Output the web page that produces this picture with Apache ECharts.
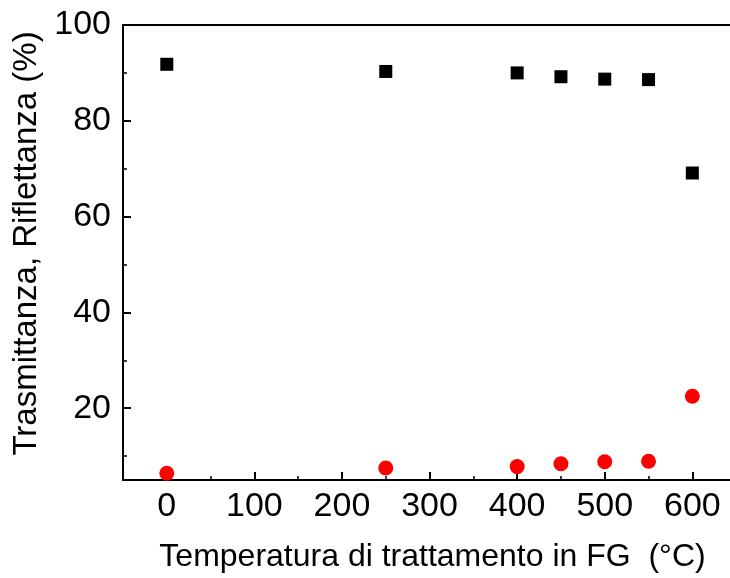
<!DOCTYPE html>
<html>
<head>
<meta charset="utf-8">
<script src="https://cdn.jsdelivr.net/npm/echarts@6/dist/echarts.min.js"></script>
<style>
html,body{margin:0;padding:0;background:#fff;}
#chart{width:730px;height:578px;}
</style>
</head>
<body>
<div id="chart"></div>
<script>
const temperatures = [0, 250, 400, 450, 500, 550, 600];
const transmittance = [91.8, 90.3, 90.0, 89.2, 88.7, 88.6, 69.1];
const reflectance = [6.4, 7.5, 7.8, 8.4, 8.8, 8.9, 22.5];
const xMajorTicks = [0, 100, 200, 300, 400, 500, 600];
const xMinorTicks = [50, 150, 250, 350, 450, 550];
const yMajorTicks = [20, 40, 60, 80, 100];
const yMinorTicks = [10, 30, 50, 70, 90];
const xTitle = 'Temperatura di trattamento in FG  (°C)';
const yTitle = 'Trasmittanza, Riflettanza (%)';

const FONT = "'Liberation Sans', Arial, sans-serif";
const XMIN = -50, XMAX = 643, YMIN = 5, YMAX = 100;

const chart = echarts.init(document.getElementById('chart'), null, {renderer: 'canvas'});
const lineStyle = {color: '#000', width: 2};

chart.setOption({
  animation: false,
  backgroundColor: '#fff',
  grid: {left: 123, top: 25, width: 607, height: 455, containLabel: false},
  xAxis: [
    {
      type: 'value', position: 'bottom', min: XMIN, max: XMAX,
      axisLine: {show: true, onZero: false, lineStyle: lineStyle},
      axisTick: {show: true, inside: true, length: 8, customValues: xMajorTicks, lineStyle: {color: '#000', width: 2}},
      axisLabel: {show: true, customValues: xMajorTicks, margin: 10, fontSize: 34, color: '#000', fontFamily: FONT},
      splitLine: {show: false},
      name: xTitle, nameLocation: 'middle', nameGap: 61,
      nameTextStyle: {fontSize: 32, color: '#000', fontFamily: FONT, padding: [0, 0, 0, 12]}
    },
    {
      type: 'value', position: 'bottom', min: XMIN, max: XMAX,
      axisLine: {show: false, onZero: false},
      axisTick: {show: true, inside: true, length: 4, customValues: xMinorTicks, lineStyle: {color: '#000', width: 1.5}},
      axisLabel: {show: false},
      splitLine: {show: false}
    },
    {
      type: 'value', position: 'top', min: XMIN, max: XMAX,
      axisLine: {show: true, onZero: false, lineStyle: lineStyle},
      axisTick: {show: false},
      axisLabel: {show: false},
      splitLine: {show: false}
    }
  ],
  yAxis: [
    {
      type: 'value', position: 'left', min: YMIN, max: YMAX,
      axisLine: {show: true, onZero: false, lineStyle: lineStyle},
      axisTick: {show: true, inside: true, length: 8, customValues: yMajorTicks, lineStyle: {color: '#000', width: 2}},
      axisLabel: {show: true, customValues: yMajorTicks, margin: 12, fontSize: 34, color: '#000', fontFamily: FONT},
      splitLine: {show: false},
      name: yTitle, nameLocation: 'middle', nameGap: 77, nameRotate: 90,
      nameTextStyle: {fontSize: 33, color: '#000', fontFamily: FONT, padding: [0, 0, 0, 18]}
    },
    {
      type: 'value', position: 'left', min: YMIN, max: YMAX,
      axisLine: {show: false, onZero: false},
      axisTick: {show: true, inside: true, length: 4, customValues: yMinorTicks, lineStyle: {color: '#000', width: 1.5}},
      axisLabel: {show: false},
      splitLine: {show: false}
    }
  ],
  series: [
    {
      type: 'scatter', xAxisIndex: 0, yAxisIndex: 0,
      symbol: 'rect', symbolSize: 13,
      itemStyle: {color: '#000', opacity: 1},
      data: temperatures.map((t, i) => [t, transmittance[i]])
    },
    {
      type: 'scatter', xAxisIndex: 0, yAxisIndex: 0,
      symbol: 'circle', symbolSize: 15,
      itemStyle: {color: '#ff0000', opacity: 1},
      data: temperatures.map((t, i) => [t, reflectance[i]])
    }
  ]
});
</script>
</body>
</html>
